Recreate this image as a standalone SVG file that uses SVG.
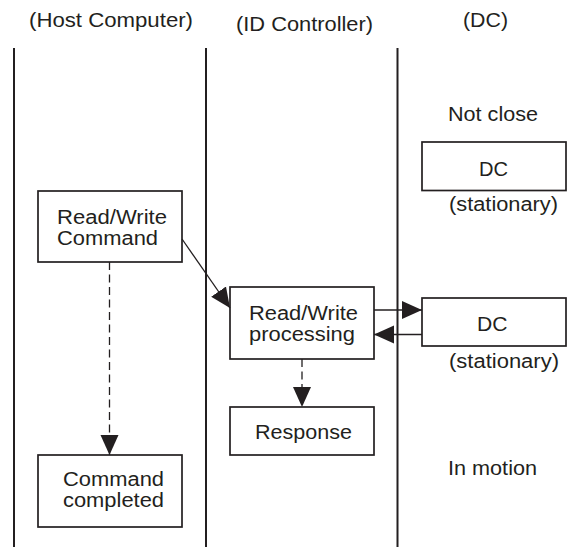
<svg xmlns="http://www.w3.org/2000/svg" width="578" height="547" viewBox="0 0 578 547">
<style>
text{font-family:"Liberation Sans",Arial,Helvetica,sans-serif;font-size:20px;fill:#231f20}
.box{fill:#fff;stroke:#231f20;stroke-width:1.7}
.lane{stroke:#231f20;stroke-width:2;fill:none}
.conn{stroke:#231f20;stroke-width:1.3;fill:none}
.dash{stroke-dasharray:8 4.5}
</style>
<defs>
<marker id="ah" markerUnits="userSpaceOnUse" markerWidth="20" markerHeight="20" viewBox="0 0 20 20" refX="20" refY="10" orient="auto">
<path d="M0,1 L20,10 L0,19 Z" fill="#231f20"/>
</marker>
</defs>
<rect width="578" height="547" fill="#fff"/>
<g id="lanes">
<line class="lane" x1="14" y1="48" x2="14" y2="547"/>
<line class="lane" x1="206" y1="48" x2="206" y2="547"/>
<line class="lane" x1="397.5" y1="48" x2="397.5" y2="547"/>
</g>
<g id="header-host"><text x="29" y="27" textLength="164" lengthAdjust="spacingAndGlyphs">(Host Computer)</text></g>
<g id="header-id"><text x="236" y="30.5" textLength="137" lengthAdjust="spacingAndGlyphs">(ID Controller)</text></g>
<g id="header-dc"><text x="463" y="27" textLength="45" lengthAdjust="spacingAndGlyphs">(DC)</text></g>
<g id="label-notclose"><text x="448" y="121" textLength="90" lengthAdjust="spacingAndGlyphs">Not close</text></g>
<g id="dc1">
<rect class="box" x="422" y="142" width="144" height="48.5"/>
<text x="479" y="176" textLength="29" lengthAdjust="spacingAndGlyphs">DC</text>
</g>
<g id="label-stationary1"><text x="449" y="211" textLength="109" lengthAdjust="spacingAndGlyphs">(stationary)</text></g>
<g id="rw-command">
<rect class="box" x="38" y="191" width="144" height="71"/>
<text x="57" y="224" textLength="110" lengthAdjust="spacingAndGlyphs">Read/Write</text>
<text x="57" y="244.5" textLength="101" lengthAdjust="spacingAndGlyphs">Command</text>
</g>
<g id="rw-processing">
<rect class="box" x="230" y="287" width="144" height="72"/>
<text x="249" y="320" textLength="109" lengthAdjust="spacingAndGlyphs">Read/Write</text>
<text x="249" y="340.5" textLength="106" lengthAdjust="spacingAndGlyphs">processing</text>
</g>
<g id="dc2">
<rect class="box" x="422" y="298" width="144" height="48"/>
<text x="477" y="331" textLength="30.5" lengthAdjust="spacingAndGlyphs">DC</text>
</g>
<g id="label-stationary2"><text x="449" y="368" textLength="110" lengthAdjust="spacingAndGlyphs">(stationary)</text></g>
<g id="response">
<rect class="box" x="230" y="407" width="144" height="48"/>
<text x="255" y="439" textLength="97" lengthAdjust="spacingAndGlyphs">Response</text>
</g>
<g id="label-inmotion"><text x="448" y="475" textLength="89" lengthAdjust="spacingAndGlyphs">In motion</text></g>
<g id="command-completed">
<rect class="box" x="38" y="455" width="144" height="72"/>
<text x="63" y="486" textLength="101" lengthAdjust="spacingAndGlyphs">Command</text>
<text x="63" y="506.5" textLength="101" lengthAdjust="spacingAndGlyphs">completed</text>
</g>
<g id="connectors">
<line class="conn" x1="182" y1="239" x2="230" y2="308" marker-end="url(#ah)"/>
<line class="conn" x1="374" y1="310" x2="422" y2="310" marker-end="url(#ah)"/>
<line class="conn" x1="422" y1="334.5" x2="374" y2="334.5" marker-end="url(#ah)"/>
<line class="conn dash" x1="109.5" y1="262" x2="109.5" y2="455" marker-end="url(#ah)"/>
<line class="conn dash" x1="302" y1="359" x2="302" y2="407" marker-end="url(#ah)"/>
</g>
</svg>
